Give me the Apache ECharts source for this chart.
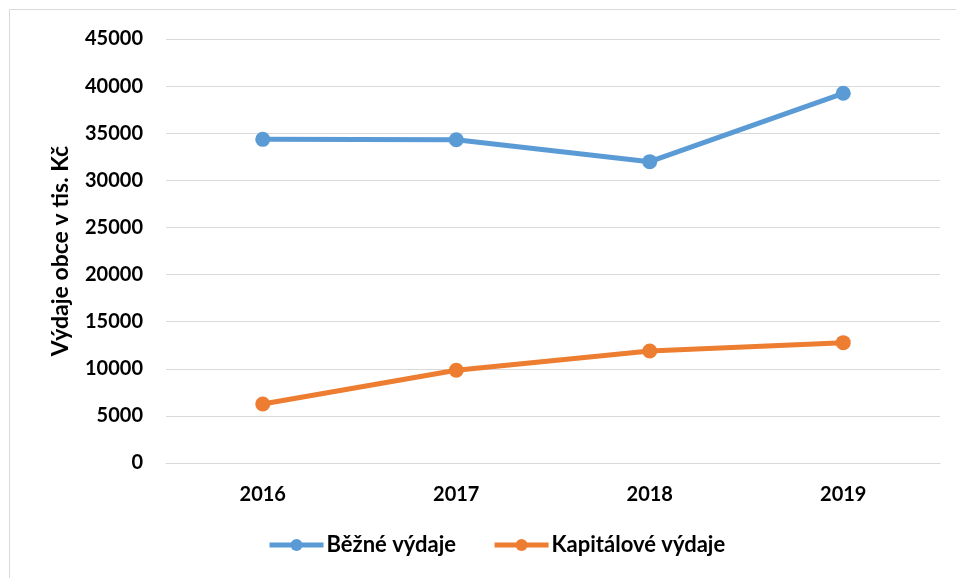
<!DOCTYPE html>
<html><head><meta charset="utf-8">
<script src="https://cdn.jsdelivr.net/npm/echarts@6/dist/echarts.min.js"></script>
<style>html,body{margin:0;padding:0;background:#fff}#c{width:956px;height:578px}</style>
</head><body><div id="c"></div>
<script>
var categories = ['2016', '2017', '2018', '2019'];
var bezne = [34350, 34300, 31980, 39240];
var kapitalove = [6260, 9840, 11890, 12770];
var seriesNames = ['Běžné výdaje', 'Kapitálové výdaje'];
var yAxisTitle = 'Výdaje obce v tis. Kč';

var font = 'Lato, "Open Sans", sans-serif';
var chart = echarts.init(document.getElementById('c'));
chart.setOption({
  animation: false,
  color: ['#5B9BD5', '#ED7D31'],
  graphic: [{type: 'rect', shape: {x: 9.5, y: 9.5, width: 1000, height: 1000}, style: {fill: 'none', stroke: '#d9d9d9', lineWidth: 1}}],
  grid: {left: 166, right: 16, top: 39, bottom: 115},
  legend: {
    bottom: 17, left: 262, itemWidth: 54, itemHeight: 15, itemGap: 36,
    lineStyle: {width: 5},
    textStyle: {fontFamily: font, fontWeight: 'bold', fontSize: 22, color: '#000', padding: [0, 0, 0, -2]},
    data: seriesNames
  },
  xAxis: {
    type: 'category', data: categories,
    axisLine: {show: true, lineStyle: {color: '#d9d9d9', width: 1}},
    axisTick: {show: false},
    axisLabel: {margin: 22, fontFamily: font, fontWeight: 'bold', fontSize: 20, color: '#000'}
  },
  yAxis: {
    type: 'value', min: 0, max: 45000, interval: 5000,
    name: yAxisTitle, nameLocation: 'middle', nameGap: 94, nameRotate: 90,
    nameTextStyle: {fontFamily: font, fontWeight: 'bold', fontSize: 23, color: '#000'},
    axisLine: {show: false}, axisTick: {show: false},
    axisLabel: {margin: 23, fontFamily: font, fontWeight: 'bold', fontSize: 20, color: '#000',
      formatter: function (v) { return String(v); }},
    splitLine: {lineStyle: {color: '#d9d9d9', width: 1}}
  },
  series: [
    {name: seriesNames[0], type: 'line', data: bezne, symbol: 'circle', symbolSize: 15, lineStyle: {width: 5}},
    {name: seriesNames[1], type: 'line', data: kapitalove, symbol: 'circle', symbolSize: 15, lineStyle: {width: 5}}
  ]
});
</script></body></html>
